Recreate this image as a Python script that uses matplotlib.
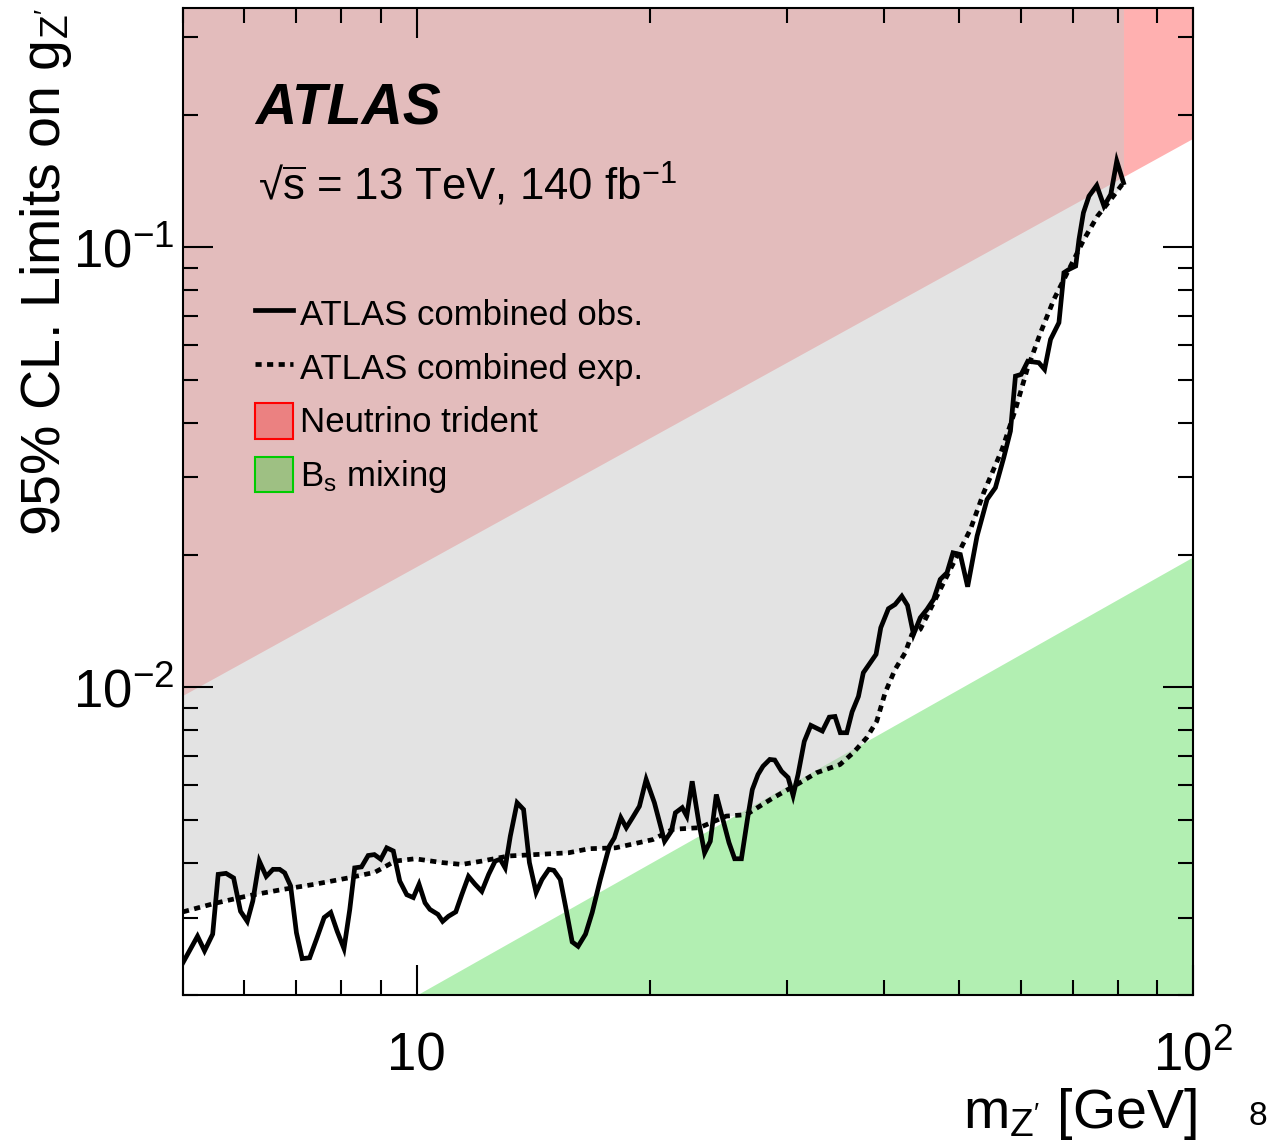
import matplotlib
matplotlib.use("Agg")
import matplotlib.pyplot as plt
from matplotlib.lines import Line2D
from matplotlib.patches import Patch
from matplotlib.ticker import NullFormatter, LogLocator

plt.rcParams['font.family'] = 'Liberation Sans'
plt.rcParams['mathtext.fontset'] = 'custom'
plt.rcParams['mathtext.rm'] = 'Liberation Sans'
plt.rcParams['mathtext.it'] = 'Liberation Sans:italic'
plt.rcParams['mathtext.bf'] = 'Liberation Sans:bold'

# observed limit on g_Z' vs Z' mass [GeV]
obs_mass = [5.00, 5.22, 5.33, 5.46, 5.55, 5.68, 5.81, 5.93, 6.05, 6.15,
            6.27, 6.40, 6.53, 6.66, 6.76, 6.88, 7.00, 7.12, 7.28, 7.43,
            7.60, 7.75, 7.90, 8.06, 8.20, 8.32, 8.49, 8.66, 8.82, 8.99,
            9.15, 9.33, 9.51, 9.71, 9.90, 10.07, 10.25, 10.40, 10.65, 10.80,
            10.99, 11.23, 11.43, 11.66, 11.89, 12.13, 12.38, 12.62, 12.81, 13.00,
            13.20, 13.47, 13.73, 13.97, 14.25, 14.50, 14.80, 15.02, 15.31, 15.55,
            15.86, 16.14, 16.50, 16.83, 17.24, 17.71, 17.97, 18.32, 18.62, 18.97,
            19.36, 19.75, 20.24, 20.86, 21.28, 21.54, 21.98, 22.28, 22.64, 23.09,
            23.49, 23.89, 24.32, 24.80, 25.25, 25.68, 26.20, 26.71, 27.06, 27.52,
            27.93, 28.50, 28.92, 29.51, 30.09, 30.54, 30.99, 31.57, 32.19, 33.31,
            34.00, 34.58, 35.13, 35.81, 36.38, 37.07, 37.61, 38.18, 39.06, 39.61,
            40.52, 41.33, 42.16, 42.88, 43.65, 44.53, 45.42, 46.33, 47.25, 48.21,
            49.07, 50.15, 51.25, 52.70, 54.29, 55.65, 57.04, 58.19, 59.06, 60.07,
            61.26, 63.30, 64.39, 65.54, 67.19, 68.19, 69.22, 70.61, 71.31, 72.25,
            73.46, 75.16, 76.80, 78.36, 79.76, 81.37]
obs_limit = [0.00237, 0.00272, 0.00252, 0.00275, 0.00376, 0.00378, 0.00369, 0.00310, 0.00294, 0.00327,
             0.00403, 0.00372, 0.00386, 0.00386, 0.00379, 0.00354, 0.00277, 0.00242, 0.00243, 0.00268,
             0.00300, 0.00308, 0.00279, 0.00255, 0.00313, 0.00389, 0.00391, 0.00415, 0.00417, 0.00407,
             0.00432, 0.00425, 0.00363, 0.00338, 0.00333, 0.00357, 0.00324, 0.00313, 0.00305, 0.00294,
             0.00302, 0.00309, 0.00338, 0.00372, 0.00357, 0.00344, 0.00376, 0.00403, 0.00407, 0.00389,
             0.00459, 0.00547, 0.00528, 0.00400, 0.00342, 0.00366, 0.00386, 0.00384, 0.00366, 0.00318,
             0.00264, 0.00258, 0.00275, 0.00308, 0.00366, 0.00436, 0.00455, 0.00506, 0.00480, 0.00506,
             0.00537, 0.00618, 0.00547, 0.00447, 0.00471, 0.00519, 0.00533, 0.00510, 0.00612, 0.00493,
             0.00421, 0.00447, 0.00571, 0.00501, 0.00444, 0.00408, 0.00408, 0.00510, 0.00586, 0.00634,
             0.00662, 0.00686, 0.00684, 0.00645, 0.00624, 0.00568, 0.00634, 0.00754, 0.00820, 0.00796,
             0.00856, 0.00859, 0.00789, 0.00789, 0.00880, 0.00954, 0.01080, 0.01122, 0.01189, 0.01367,
             0.01510, 0.01544, 0.01612, 0.01536, 0.01320, 0.01440, 0.01504, 0.01585, 0.01760, 0.01823,
             0.02023, 0.02005, 0.01694, 0.02207, 0.02675, 0.02844, 0.03327, 0.03825, 0.05099, 0.05145,
             0.05514, 0.05470, 0.05281, 0.06178, 0.06745, 0.08761, 0.08913, 0.09068, 0.1043, 0.1199,
             0.1308, 0.1383, 0.1241, 0.1320, 0.1571, 0.1403]

# expected limit
exp_mass = [5.00, 5.49, 6.06, 6.69, 7.39, 8.16, 8.83, 9.38, 9.95, 10.77,
            11.43, 12.13, 13.14, 14.21, 15.70, 16.67, 18.04, 20.14, 21.37, 23.13,
            25.05, 26.58, 28.78, 31.15, 32.74, 35.10, 36.52, 38.00, 39.14, 40.13,
            41.33, 42.58, 43.44, 44.53, 45.87, 47.25, 48.68, 50.15, 51.67, 53.75,
            56.76, 59.06, 61.15, 63.62, 66.19, 68.19, 70.25, 72.37, 75.33, 78.36,
            81.37]
exp_limit = [0.00309, 0.00323, 0.00336, 0.00347, 0.00357, 0.00369, 0.00380, 0.00403, 0.00408, 0.00400,
             0.00396, 0.00403, 0.00414, 0.00417, 0.00421, 0.00430, 0.00432, 0.00451, 0.00476, 0.00480,
             0.00510, 0.00514, 0.00561, 0.00607, 0.00640, 0.00668, 0.00711, 0.00769, 0.00838, 0.00973,
             0.01099, 0.01199, 0.01320, 0.01355, 0.01504, 0.01670, 0.01854, 0.02059, 0.02286, 0.02770,
             0.03474, 0.04283, 0.05281, 0.06399, 0.07616, 0.08458, 0.09391, 0.1043, 0.1178, 0.1285,
             0.1403]

# external constraints (straight lines in log-log)
trident_mass = [5.0, 100.0]
trident_limit = [0.0096, 0.177]
bs_mass = [10.0, 100.0]
bs_limit = [0.002, 0.0198]

x_lo, x_hi = 5.0, 100.0
y_lo, y_hi = 0.002, 0.35

fig = plt.figure(figsize=(12.68, 11.48), dpi=100)
ax = fig.add_axes([183 / 1268, 1 - 995 / 1148, 1010 / 1268, 987 / 1148])

red = (1.0, 0.0, 0.0)
green = (0.0, 0.8, 0.0)
dots = (0, (1.3, 1.15))

ax.fill_between(trident_mass, trident_limit, y_hi, color=red, alpha=0.31, lw=0)
ax.fill_between(bs_mass, 1e-4, bs_limit, color=green, alpha=0.30, lw=0)
ax.fill_between(exp_mass, exp_limit, y_hi, color='#c9c9c9', alpha=0.5, lw=0)

ax.plot(obs_mass, obs_limit, color='black', lw=3.4, solid_joinstyle='miter')
ax.plot(exp_mass, exp_limit, color='black', lw=3.4, linestyle=dots)

ax.set_xscale('log')
ax.set_yscale('log')
ax.set_xlim(x_lo, x_hi)
ax.set_ylim(y_lo, y_hi)

ax.set_xticks([10, 100])
ax.set_xticklabels(['10', '$10^{2}$'])
ax.set_yticks([0.01, 0.1])
ax.set_yticklabels(['$10^{-2}$', '$10^{-1}$'])
ax.xaxis.set_minor_locator(LogLocator(base=10, subs=range(2, 10), numticks=20))
ax.yaxis.set_minor_locator(LogLocator(base=10, subs=range(2, 10), numticks=20))
ax.xaxis.set_minor_formatter(NullFormatter())
ax.yaxis.set_minor_formatter(NullFormatter())

ax.tick_params(which='both', direction='in', top=True, right=True, width=1.5, colors='black')
ax.tick_params(which='major', length=21.6, labelsize=38)
ax.tick_params(which='minor', length=10.8)
ax.tick_params(axis='x', which='major', pad=26)
ax.tick_params(axis='y', which='major', pad=6)
for s in ax.spines.values():
    s.set_linewidth(1.5)

fig.text(0.944, 0.017, "m$_{\\mathregular{Z'}}$ [GeV]", ha='right', va='baseline', fontsize=40)
fig.text(0.036, 0.993, "95% CL. Limits on g$_{\\mathregular{Z'}}$", rotation=90,
         ha='center', va='top', fontsize=40)
fig.text(0.999, 0.02, '8', ha='right', va='baseline', fontsize=24)

fig.text(255 / 1268, 1 - 125 / 1148, 'ATLAS', fontsize=41, fontweight='bold',
         fontstyle='italic', va='baseline')
fig.text(258 / 1268, 1 - 200 / 1148,
         '\u221a$\\overline{\\mathregular{s}}$ = 13 TeV, 140 fb$^{\\mathregular{-1}}$',
         fontsize=31.5, va='baseline')

handles = [
    Line2D([], [], color='black', lw=3.4),
    Line2D([], [], color='black', lw=3.4, linestyle=dots),
    Patch(facecolor=(1, 0, 0, 0.31), edgecolor=red, lw=1.5),
    Patch(facecolor=(0, 0.8, 0, 0.30), edgecolor=green, lw=1.5),
]
labels = ['ATLAS combined obs.', 'ATLAS combined exp.', 'Neutrino trident', 'B$_{\\mathregular{s}}$ mixing']
ax.legend(handles, labels, loc='upper left', bbox_to_anchor=(0.0713, 0.709),
          frameon=False, fontsize=25, handlelength=1.1, handleheight=1.2,
          handletextpad=0.2, labelspacing=0.5, borderpad=0, borderaxespad=0)

fig.savefig('out.png', dpi=100)
